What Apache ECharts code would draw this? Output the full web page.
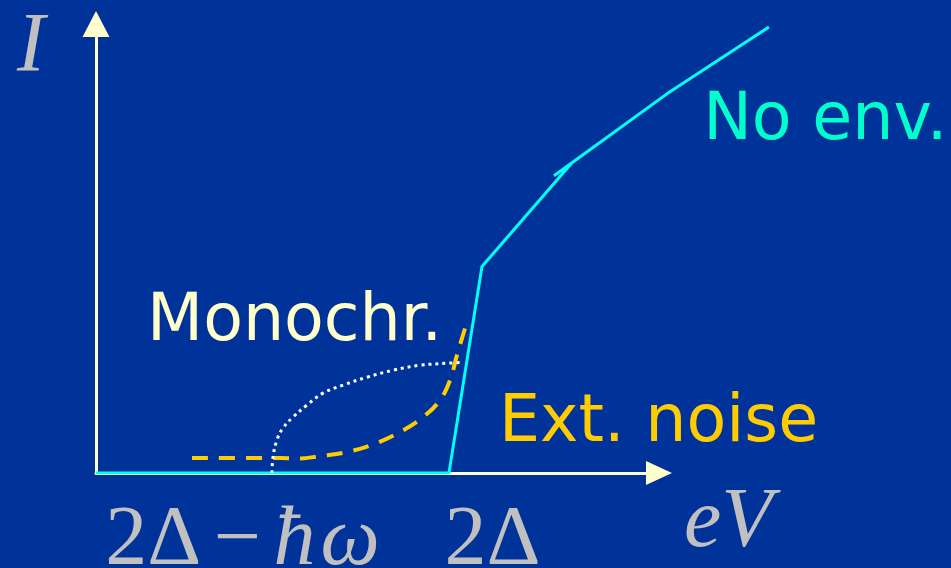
<!DOCTYPE html>
<html>
<head>
<meta charset="utf-8">
<script src="https://cdn.jsdelivr.net/npm/echarts@6/dist/echarts.min.js"></script>
<style>
  html, body { margin: 0; padding: 0; background: #003399; }
  #chart { width: 951px; height: 568px; }
</style>
</head>
<body>
<div id="chart"></div>
<script>
// Tunnel current I versus bias eV, with eV measured in units of Δ (2Δ = 2, ħω = Δ).
const xMax = 3.19;
const yMax = 4.5;

// Tick positions on the eV axis and their labels
const tickValues = [1, 2];
const tickLabels = ['2Δ−ħω', '2Δ'];

// Bare junction, no environment
const noEnvX = [0, 2.0, 2.187, 2.697, 2.595, 2.697, 3.235, 3.813];
const noEnvY = [0, 0, 2.07, 3.11, 2.98, 3.11, 3.80, 4.47];

// Broadband external noise
const noiseX = [0.544, 1.042, 1.156, 1.269, 1.422, 1.575, 1.722, 1.853, 1.949, 2.006, 2.045, 2.091];
const noiseY = [0.15, 0.15, 0.145, 0.17, 0.21, 0.29, 0.41, 0.56, 0.73, 0.93, 1.18, 1.45];

// Monochromatic irradiation at frequency ω
const monoX = [0.997, 1.003, 1.025, 1.059, 1.116, 1.195, 1.286, 1.399, 1.535, 1.683, 1.836, 1.989, 2.079];
const monoY = [0, 0.16, 0.33, 0.45, 0.56, 0.68, 0.80, 0.88, 0.96, 1.03, 1.08, 1.10, 1.11];

// Curve captions, anchored at the left edge / vertical middle of the text
const captionNames = ['No env.', 'Monochr.', 'Ext. noise'];
const captionX = [3.44, 0.289, 2.283];
const captionY = [3.52, 1.50, 0.49];

const captionColors = { 'No env.': '#00FFCC', 'Monochr.': '#FFFFCC', 'Ext. noise': '#FFCC00' };

const zip = (xs, ys) => xs.map((x, i) => [x, ys[i]]);

const W = 951;
const LEFT = 96, AXIS_RIGHT = 292, TOP = 24, BOTTOM = 95;
// The drawing grid shares the axis scale but runs on to the right edge,
// so the curves may continue past the arrow of the eV axis.
const plotMax = xMax * (W - LEFT) / (W - LEFT - AXIS_RIGHT);

const SERIF = '"Liberation Serif", "DejaVu Serif", "Times New Roman", serif';
const SANS = '"DejaVu Sans", Verdana, sans-serif';
const GREY = '#C0C0C0';
const AXIS = '#FFFFCC';
const MATH_SIZE = 84;

function mathStyle(extra) {
  return Object.assign({
    fontFamily: SERIF, fontSize: MATH_SIZE, lineHeight: MATH_SIZE, color: GREY
  }, extra || {});
}

// "a−b" is typeset with operator spacing and an italic right-hand side
function richTick(text) {
  if (text.indexOf('−') >= 0) {
    const parts = text.split('−');
    const rhs = Array.from(parts[1]);
    return '{n|' + parts[0] + '}{gap| }{n|−}{gap| }{i|' + rhs[0] + '}{thin| }{iL|' + rhs.slice(1).join('') + '}';
  }
  return '{nR|' + text + '}';
}

const tickRich = {
  n: mathStyle(),
  nR: mathStyle({ padding: [0, 0, 0, 87] }),
  i: mathStyle({ fontStyle: 'italic' }),
  iL: mathStyle({ fontStyle: 'italic', padding: [0, 60, 0, 0] }),
  gap: mathStyle({ fontSize: 50 }),
  thin: mathStyle({ fontSize: 20 })
};

function tickLabel(vals) {
  return {
    show: true,
    customValues: vals,
    margin: 27,
    hideOverlap: false,
    formatter: function (v) {
      const i = tickValues.indexOf(v);
      return i >= 0 ? richTick(tickLabels[i]) : '';
    },
    rich: tickRich
  };
}

const chart = echarts.init(document.getElementById('chart'), null, { renderer: 'canvas' });

chart.setOption({
  animation: false,
  backgroundColor: '#003399',
  grid: [
    { left: LEFT, right: AXIS_RIGHT, top: TOP, bottom: BOTTOM, outerBoundsMode: 'none', containLabel: false },
    { left: LEFT, right: 0, top: TOP, bottom: BOTTOM, outerBoundsMode: 'none', containLabel: false }
  ],
  xAxis: [
    {
      gridIndex: 0,
      type: 'value',
      min: 0,
      max: xMax,
      axisLine: {
        show: true, onZero: false,
        symbol: ['none', 'triangle'], symbolSize: [24, 26],
        lineStyle: { color: AXIS, width: 3 }
      },
      axisTick: { show: false },
      splitLine: { show: false },
      axisLabel: tickLabel(tickValues.slice(1)),
      name: 'eV',
      nameLocation: 'end',
      nameGap: 25,
      nameTextStyle: mathStyle({
        fontStyle: 'italic', align: 'left', verticalAlign: 'top', padding: [9, 0, 0, 0]
      })
    },
    {
      gridIndex: 1,
      type: 'value',
      min: 0,
      max: plotMax,
      axisLine: { show: false },
      axisTick: { show: false },
      splitLine: { show: false },
      axisLabel: tickLabel(tickValues.slice(0, 1))
    }
  ],
  yAxis: [
    {
      gridIndex: 0,
      type: 'value',
      min: 0,
      max: yMax,
      axisLine: {
        show: true, onZero: false,
        symbol: ['none', 'triangle'], symbolSize: [27, 26],
        lineStyle: { color: AXIS, width: 3 }
      },
      axisTick: { show: false },
      axisLabel: { show: false },
      splitLine: { show: false },
      name: 'I',
      nameLocation: 'end',
      nameGap: 17,
      nameTextStyle: mathStyle({
        fontStyle: 'italic', align: 'right', verticalAlign: 'top', padding: [0, 51, 0, 0]
      })
    },
    {
      gridIndex: 1,
      type: 'value',
      min: 0,
      max: yMax,
      show: false
    }
  ],
  series: [
    {
      name: 'Ext. noise',
      type: 'line',
      xAxisIndex: 1, yAxisIndex: 1,
      data: zip(noiseX, noiseY),
      smooth: 0.4,
      symbol: 'none',
      z: 3,
      lineStyle: { color: '#FFCC00', width: 4, type: [16, 11] }
    },
    {
      name: 'No env.',
      type: 'line',
      xAxisIndex: 1, yAxisIndex: 1,
      data: zip(noEnvX, noEnvY),
      symbol: 'none',
      z: 4,
      lineStyle: { color: '#00FFFF', width: 3 }
    },
    {
      name: 'Monochr.',
      type: 'line',
      xAxisIndex: 1, yAxisIndex: 1,
      data: zip(monoX, monoY),
      smooth: 0.4,
      symbol: 'none',
      z: 5,
      lineStyle: { color: '#FFFFFF', width: 3, type: [3, 4] }
    },
    {
      name: 'captions',
      type: 'scatter',
      xAxisIndex: 1, yAxisIndex: 1,
      symbolSize: 0.1,
      itemStyle: { color: 'transparent', opacity: 1 },
      z: 6,
      data: captionNames.map((n, i) => ({
        name: n,
        value: [captionX[i], captionY[i]],
        label: {
          show: true,
          position: 'right',
          distance: 0,
          opacity: 1,
          formatter: '{b}',
          fontFamily: SANS,
          fontSize: 65,
          color: captionColors[n]
        }
      }))
    }
  ]
});
</script>
</body>
</html>
